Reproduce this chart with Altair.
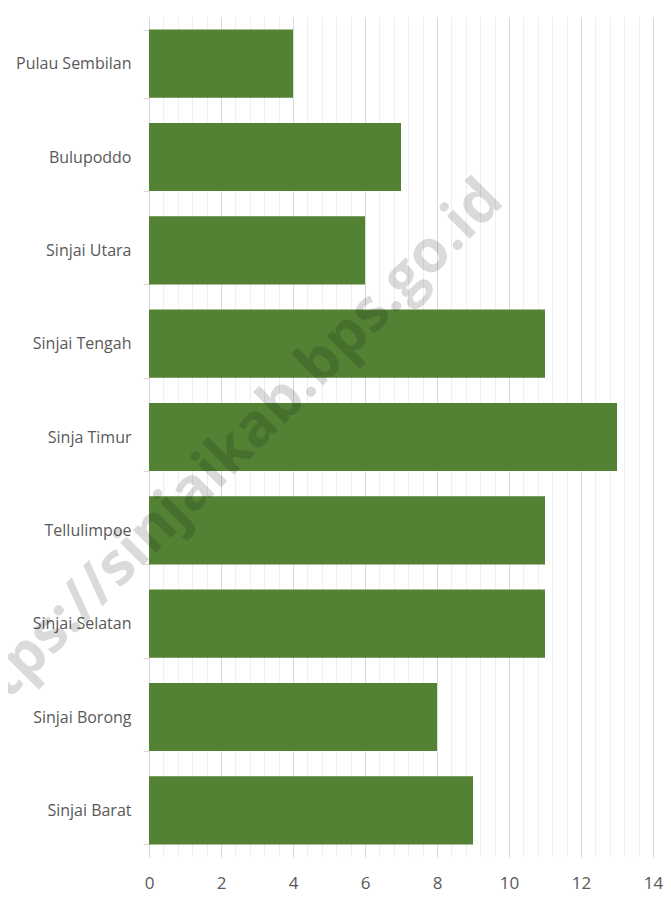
import altair as alt
import pandas as pd
import numpy as np

categories = ["Pulau Sembilan", "Bulupoddo", "Sinjai Utara", "Sinjai Tengah", "Sinja Timur",
              "Tellulimpoe", "Sinjai Selatan", "Sinjai Borong", "Sinjai Barat"]
values = [4, 7, 6, 11, 13, 11, 11, 8, 9]
major_ticks = [0, 2, 4, 6, 8, 10, 12, 14]
minor_ticks = [round(v * 0.4, 1) for v in range(0, 36)]
watermark = "https://sinjaikab.bps.go.id"

df = pd.DataFrame({"kecamatan": categories, "jumlah": values})

xscale = alt.Scale(domain=[0, 14], nice=False, zero=True)
yenc = alt.Y("kecamatan:N", sort=categories, title=None,
             scale=alt.Scale(paddingInner=0.27, paddingOuter=0.135),
             axis=alt.Axis(labelFont="Open Sans", labelFontSize=16, labelColor="#595959",
                           domainColor="#d9d9d9", tickColor="#d9d9d9", tickBand="extent",
                           tickSize=6, labelPadding=12, grid=False, labelLimit=200))

minor = alt.Chart(df).mark_bar(opacity=0).encode(
    x=alt.X("jumlah:Q", scale=xscale, title=None,
            axis=alt.Axis(orient="bottom", values=minor_ticks, labels=False, ticks=False,
                          domain=False, grid=True, gridColor="#eeeeee", gridWidth=1)),
    y=yenc,
)

bars = alt.Chart(df).mark_bar(color="#548235").encode(
    x=alt.X("jumlah:Q", scale=xscale, title=None,
            axis=alt.Axis(orient="bottom", values=major_ticks, labelFont="Open Sans",
                          labelFontSize=17, labelColor="#595959", ticks=False, domain=False,
                          labelFlush=False, grid=True, gridColor="#d9d9d9", gridWidth=1,
                          labelPadding=18)),
    y=yenc,
)

wm = alt.Chart(pd.DataFrame({"t": [watermark]})).mark_text(
    font="Open Sans", fontWeight="bold", fontSize=59, angle=315, color="black",
    opacity=0.14, align="center", baseline="middle"
).encode(text="t:N", x=alt.value(72), y=alt.value(445))

chart = alt.layer(minor, bars, wm).resolve_axis(x="independent").properties(
    width=504, height=840,
    autosize=alt.AutoSizeParams(type="none"),
    padding={"left": 141, "top": 9, "right": 10, "bottom": 38},
).configure_view(stroke=None)

chart.save("out.html", embed_options={"renderer": "svg", "actions": False})
